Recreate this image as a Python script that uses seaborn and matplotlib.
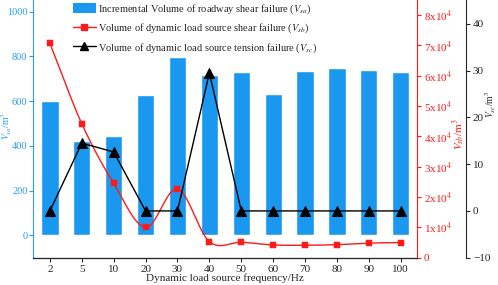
import matplotlib
matplotlib.use("Agg")
import matplotlib.pyplot as plt
from matplotlib.ticker import FuncFormatter, MultipleLocator
from matplotlib.patches import Patch
from matplotlib.lines import Line2D
import seaborn as sns
import numpy as np
import pandas as pd

# data
freq = ["2", "5", "10", "20", "30", "40", "50", "60", "70", "80", "90", "100"]
v_sa = [600, 420, 443, 627, 795, 718, 728, 632, 735, 748, 740, 732]
v_sb = [7.07e4, 4.42e4, 2.45e4, 1.0e4, 2.27e4, 0.53e4, 0.51e4, 0.42e4, 0.41e4, 0.43e4, 0.48e4, 0.50e4]
v_sc = [0, 14.5, 12.6, 0, 0, 29.5, 0, 0, 0, 0, 0, 0]

BLUE = "#1a98f0"
AXBLUE = "#2a9df4"
RED = "#ff1a1a"


def smooth(xs, ys, n=40):
    # catmull-rom style curve through the points, just for drawing the red line
    xs = np.asarray(xs, float)
    ys = np.asarray(ys, float)
    m = np.gradient(ys, xs)
    out_x, out_y = [], []
    for i in range(len(xs) - 1):
        h = xs[i + 1] - xs[i]
        t = np.linspace(0, 1, n, endpoint=(i == len(xs) - 2))
        h00 = 2 * t**3 - 3 * t**2 + 1
        h10 = t**3 - 2 * t**2 + t
        h01 = -2 * t**3 + 3 * t**2
        h11 = t**3 - t**2
        out_x.append(xs[i] + t * h)
        out_y.append(h00 * ys[i] + h10 * h * m[i] + h01 * ys[i + 1] + h11 * h * m[i + 1])
    return np.concatenate(out_x), np.concatenate(out_y)


sns.set_style("ticks")
plt.rcParams["font.family"] = ["Liberation Serif", "DejaVu Serif"]
plt.rcParams["mathtext.fontset"] = "stix"
plt.rcParams["xtick.major.size"] = 3
plt.rcParams["ytick.major.size"] = 3

df = pd.DataFrame({"freq": freq, "v_sa": v_sa, "v_sb": v_sb, "v_sc": v_sc})
idx = np.arange(len(freq))

fig = plt.figure(figsize=(4.98, 2.85), dpi=100)
ax = fig.add_axes([33 / 498, 1 - 257.7 / 285, (416.7 - 33) / 498, 257.7 / 285])

sns.barplot(data=df, x="freq", y="v_sa", color=BLUE, saturation=1, width=0.54, ax=ax)
ax.set_xlim(-0.53, 11.5)
ax.set_ylim(-100, 1052)
ax.yaxis.set_major_locator(MultipleLocator(200))
ax.set_ylabel(r"$V_{sa}$/m$^3$", color=AXBLUE, fontsize=7)
ax.yaxis.set_label_coords(-0.05, 0.51)
ax.set_xlabel("Dynamic load source frequency/Hz", fontsize=8, labelpad=0)
ax.tick_params(axis="y", colors=AXBLUE, labelsize=7.5, pad=1)
ax.tick_params(axis="x", labelsize=8, pad=2)
ax.spines["left"].set_color(AXBLUE)
ax.spines["top"].set_visible(False)
ax.spines["right"].set_visible(False)

# red axis: dynamic load source shear failure
ax2 = ax.twinx()
xx, yy = smooth(idx, v_sb)
ax2.plot(xx, yy, color=RED, lw=1.0)
sns.scatterplot(x=idx, y=df["v_sb"], marker="s", color=RED, s=16, edgecolor=RED, ax=ax2, zorder=3)
ax2.set_ylim(0, 8.5e4)
ax2.yaxis.set_major_locator(MultipleLocator(1e4))
ax2.yaxis.set_major_formatter(FuncFormatter(lambda v, p: "0" if v == 0 else "%dx10$^4$" % round(v / 1e4)))
ax2.tick_params(axis="y", colors=RED, labelsize=8, pad=2)
ax2.spines["right"].set_color(RED)
ax2.spines["top"].set_visible(False)
ax2.spines["left"].set_visible(False)
ax2.set_ylabel(r"$V_{sb}$/m$^3$", color=RED, fontsize=8)
ax2.yaxis.set_label_coords(1.088, 0.48)

# black axis: tension failure
ax3 = ax.twinx()
ax3.spines["right"].set_position(("axes", 1 + 49.3 / 383.7))
sns.lineplot(x=idx, y=df["v_sc"], color="black", lw=1.0, marker="^", markersize=7,
             markeredgecolor="black", ax=ax3)
ax3.set_ylim(-10, 45.1)
ax3.yaxis.set_major_locator(MultipleLocator(10))
ax3.tick_params(axis="y", labelsize=8, pad=2)
ax3.spines["top"].set_visible(False)
ax3.spines["left"].set_visible(False)
ax3.set_ylabel(r"$V_{sc}$/m$^3$", fontsize=7)
ax3.yaxis.set_label_coords(1.175, 0.596)

handles = [
    Patch(facecolor=BLUE, edgecolor="none"),
    Line2D([], [], color=RED, marker="s", markersize=4, lw=1.0),
    Line2D([], [], color="black", marker="^", markersize=6, lw=1.0),
]
labels = [
    r"Incremental Volume of roadway shear failure ($V_{sa}$)",
    r"Volume of dynamic load source shear failure ($V_{sb}$)",
    r"Volume of dynamic load source tension failure ($V_{sc}$)",
]
ax3.legend(handles, labels, loc="upper left", bbox_to_anchor=(70 / 498, 1.0),
           bbox_transform=fig.transFigure, frameon=False, fontsize=7.5,
           handlelength=2.2, handleheight=1.1, handletextpad=0.2,
           labelspacing=0.55, borderpad=0.25, borderaxespad=0, numpoints=1)

fig.savefig("out.png", dpi=100)
